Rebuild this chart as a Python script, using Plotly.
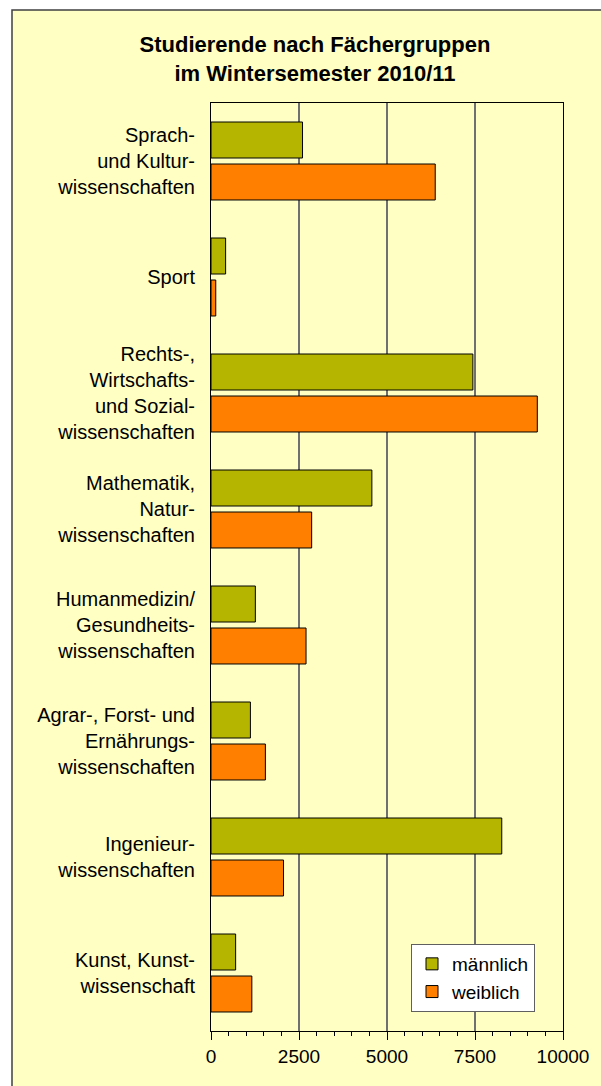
import plotly.graph_objects as go

categories = [
    "Sprach- und Kulturwissenschaften",
    "Sport",
    "Rechts-, Wirtschafts- und Sozialwissenschaften",
    "Mathematik, Naturwissenschaften",
    "Humanmedizin/Gesundheitswissenschaften",
    "Agrar-, Forst- und Ernährungswissenschaften",
    "Ingenieurwissenschaften",
    "Kunst, Kunstwissenschaft",
]
tick_labels = [
    "Sprach-<br>und Kultur-<br>wissenschaften",
    "Sport",
    "Rechts-,<br>Wirtschafts-<br>und Sozial-<br>wissenschaften",
    "Mathematik,<br>Natur-<br>wissenschaften",
    "Humanmedizin/<br>Gesundheits-<br>wissenschaften",
    "Agrar-, Forst- und<br>Ernährungs-<br>wissenschaften",
    "Ingenieur-<br>wissenschaften",
    "Kunst, Kunst-<br>wissenschaft",
]
maennlich = [2600, 415, 7440, 4570, 1260, 1120, 8260, 700]
weiblich = [6370, 135, 9270, 2860, 2700, 1545, 2060, 1160]
x_ticks = [0, 2500, 5000, 7500, 10000]

W, H = 601, 1086
ML, MR, MT, MB = 211, 38, 103, 55
PW, PH = W - ML - MR, H - MT - MB

FONT = "Liberation Sans, Arial, Helvetica, sans-serif"

def px_x(p):
    return (p - ML) / PW

def px_y(p):
    return (H - MB - p) / PH

fig = go.Figure()
fig.add_trace(go.Bar(
    y=categories, x=maennlich, orientation="h", name="männlich",
    marker=dict(color="#B5B500", line=dict(color="#000000", width=1)),
))
fig.add_trace(go.Bar(
    y=categories, x=weiblich, orientation="h", name="weiblich",
    marker=dict(color="#FF8000", line=dict(color="#000000", width=1)),
))

fig.update_layout(
    width=W, height=H,
    margin=dict(l=ML, r=MR, t=MT, b=MB, pad=0),
    paper_bgcolor="#FFFFFF",
    plot_bgcolor="#FFFFFF",
    barmode="group",
    bargap=0.276,
    bargroupgap=0.143,
    font=dict(family=FONT, size=19, color="#000000"),
    title=dict(
        text="<b>Studierende nach Fächergruppen<br>im Wintersemester 2010/11</b>",
        font=dict(family=FONT, size=22, color="#000000"),
        x=315 / W, xanchor="center", xref="container",
        y=1 - 52 / H, yanchor="top", yref="container",
    ),
    legend=dict(
        x=px_x(411), y=px_y(944), xanchor="left", yanchor="top",
        bgcolor="#FFFFFF", bordercolor="#606060", borderwidth=1,
        font=dict(family=FONT, size=19, color="#000000"),
        traceorder="normal", itemwidth=30,
    ),
    showlegend=True,
    xaxis=dict(
        range=[0, 10000], tickvals=x_ticks,
        ticktext=[str(v) for v in x_ticks],
        showgrid=True, gridcolor="#707070", gridwidth=1.5,
        showline=True, linecolor="#000000", linewidth=1, mirror=True,
        ticks="outside", ticklen=8, tickcolor="#000000", tickwidth=1,
        minor=dict(dtick=500, ticks="outside", ticklen=4, tickcolor="#000000", showgrid=False),
        tickfont=dict(family=FONT, size=19, color="#000000"),
        zeroline=False, fixedrange=True,
    ),
    yaxis=dict(
        tickvals=categories, ticktext=tick_labels,
        autorange="reversed",
        showgrid=False, showline=True, linecolor="#000000", linewidth=1, mirror=True,
        ticks="", ticklabelstandoff=11,
        tickfont=dict(family=FONT, size=20, color="#000000"),
        fixedrange=True,
    ),
    shapes=[
        dict(
            type="rect", xref="paper", yref="paper", layer="below",
            x0=px_x(12), x1=px_x(W + 10), y0=px_y(H + 10), y1=px_y(10),
            fillcolor="#FFFFC4", line=dict(color="#404040", width=1.5),
        ),
    ],
)

fig.write_html(
    "out.html",
    config={"displayModeBar": False, "staticPlot": True},
    post_script="document.body.style.margin='0px';document.body.style.padding='0px';document.body.style.overflow='hidden';",
)
